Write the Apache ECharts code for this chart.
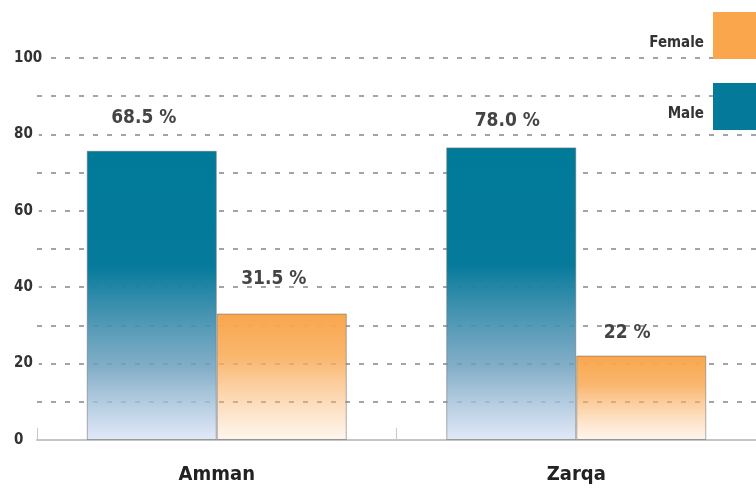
<!DOCTYPE html>
<html>
<head>
<meta charset="utf-8">
<script src="https://cdn.jsdelivr.net/npm/echarts@6/dist/echarts.min.js"></script>
<style>
html,body{margin:0;padding:0;background:#fff;}
#chart{width:756px;height:488px;}
</style>
</head>
<body>
<div id="chart"></div>
<script>
// ---- data ----
const categories = ['Amman', 'Zarqa'];
const seriesNames = ['Male', 'Female'];
const maleValues = [75.7, 76.6];
const femaleValues = [33.1, 22.1];
const maleLabels = ['68.5 %', '78.0 %'];
const femaleLabels = ['31.5 %', '22 %'];
const yTicks = [0, 20, 40, 60, 80, 100];

// ---- style ----
const maleLabelOffsets = [[-8, -5], [-4, 1]];
const femaleLabelOffsets = [[-8, -7], [-14, 5]];
const FONT = '"DejaVu Sans Condensed", "DejaVu Sans", sans-serif';
const MALE_SOLID = '#04799a';
const FEMALE_SOLID = '#f9a64d';

const chart = echarts.init(document.getElementById('chart'), null, {renderer: 'canvas'});

function grad(stops) {
  return new echarts.graphic.LinearGradient(0, 0, 0, 1, stops);
}

const maleColor = grad([
  {offset: 0, color: 'rgba(0,122,153,1)'},
  {offset: 0.4, color: 'rgba(6,122,155,1)'},
  {offset: 0.75, color: 'rgba(110,160,190,0.85)'},
  {offset: 1, color: 'rgba(215,225,245,0.75)'}
]);
const femaleColor = grad([
  {offset: 0, color: 'rgba(249,166,77,1)'},
  {offset: 0.35, color: 'rgba(249,170,85,0.85)'},
  {offset: 1, color: 'rgba(250,190,130,0.15)'}
]);

function buildData(values, labels, offsets) {
  return values.map((v, i) => ({
    value: v,
    label: {formatter: labels[i], offset: offsets[i]}
  }));
}

const labelStyle = {
  show: true,
  position: 'top',
  distance: 18,
  fontFamily: FONT,
  fontSize: 19,
  fontWeight: 'bold',
  color: '#444'
};

chart.setOption({
  animation: false,
  backgroundColor: '#fff',
  grid: {left: 37, right: 0, top: 58, bottom: 48, containLabel: false},
  legend: {
    data: [
      {name: 'Female', itemStyle: {color: FEMALE_SOLID, borderWidth: 0}},
      {name: 'Male', itemStyle: {color: MALE_SOLID, borderWidth: 0}}
    ],
    orient: 'vertical',
    right: -7,
    top: 12,
    padding: 0,
    align: 'right',
    itemWidth: 50,
    itemHeight: 47,
    itemGap: 24,
    icon: 'rect',
    formatter: '{t|{name}}',
    textStyle: {
      rich: {
        t: {fontFamily: FONT, fontSize: 15, fontWeight: 'bold', color: '#333', padding: [15, 4, 0, 0]}
      }
    }
  },
  xAxis: {
    type: 'category',
    data: categories,
    axisLine: {lineStyle: {color: '#c4c4c4', width: 2}},
    axisTick: {show: true, inside: true, length: 12, lineStyle: {color: '#c8c8c8', width: 1}},
    axisLabel: {fontFamily: FONT, fontSize: 20, fontWeight: 'bold', color: '#222', margin: 25}
  },
  yAxis: {
    type: 'value',
    min: 0,
    max: 100,
    interval: 10,
    axisLine: {show: false},
    axisTick: {show: false},
    axisLabel: {
      fontFamily: FONT, fontSize: 15, fontWeight: 'bold', color: '#333',
      align: 'left', margin: 23,
      backgroundColor: '#fff', padding: [0, 6, 0, 0],
      formatter: v => (yTicks.indexOf(v) >= 0 ? String(v) : '')
    },
    splitLine: {lineStyle: {color: '#a4a4a4', width: 2, type: [5, 9]}}
  },
  series: [
    {
      name: 'Male',
      type: 'bar',
      barWidth: 130,
      barGap: '0%',
      data: buildData(maleValues, maleLabels, maleLabelOffsets),
      itemStyle: {color: maleColor, borderColor: 'rgba(110,110,110,0.55)', borderWidth: 1},
      label: labelStyle
    },
    {
      name: 'Female',
      type: 'bar',
      barWidth: 130,
      barGap: '0%',
      data: buildData(femaleValues, femaleLabels, femaleLabelOffsets),
      itemStyle: {color: femaleColor, borderColor: 'rgba(110,110,110,0.55)', borderWidth: 1},
      label: labelStyle
    }
  ]
});
</script>
</body>
</html>
